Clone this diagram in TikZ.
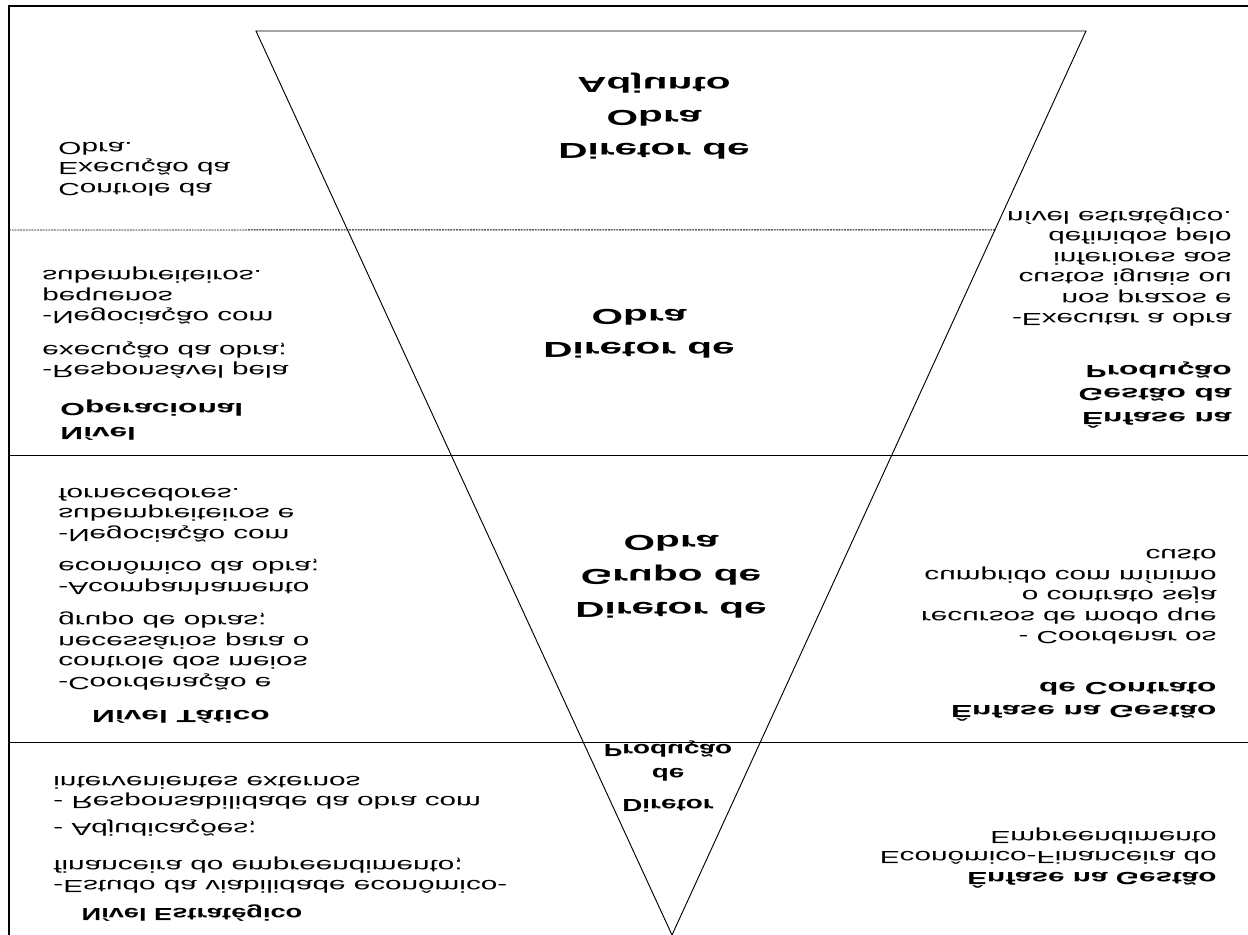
\documentclass[tikz,border=0pt]{standalone}
\usepackage{fontspec}
\setmainfont{Liberation Sans}
\usetikzlibrary{calc}

\begin{document}
\begin{tikzpicture}[x=0.03cm,y=-0.03cm,
    flip/.style={yscale=-1,inner sep=0pt},
    txt/.style={flip,xscale=1.69,font=\fontsize{15}{17.5}\selectfont},
    hdr/.style={flip,xscale=1.8,font=\fontsize{15}{20}\selectfont\bfseries},
    chief/.style={flip,xscale=1.87,align=center,font=\fontsize{18.5}{28.5}\selectfont\bfseries},
    rule/.style={line width=0.8pt},
    sep/.style={line width=0.8pt,dash pattern=on 1.6pt off 0.8pt}]
    \useasboundingbox (0,0) rectangle (1248,935);
    \coordinate (tl) at (256,31);
    \coordinate (tr) at (1086,31);
    \coordinate (ap) at (672,935);
    \draw[line width=1.3pt] (9,935) -- (9,6) -- (1248,6);
    \draw[rule] (tl) -- (tr) -- (ap) -- cycle;
    \draw[sep] (9,230) -- ($(tr)!0.22!(ap)$);
    \draw[rule] (9,455) -- (1248,455);
    \draw[rule] (9,742) -- (1248,742);

    \node[chief] (adj) at (654,116) {Diretor de\\Obra\\Adjunto};
    \node[chief] (obra) at (639,334) {Diretor de\\Obra};
    \node[chief] (grupo) at (671,577) {Diretor de\\Grupo de\\Obra};
    \node[hdr,xscale=0.88,align=center] (prod) at (668,777) {Diretor\\[7pt]de\\Produção};

    \node[txt,anchor=west,align=left] (ctrl) at (58,169) {Controle da\\Execução da\\Obra.};
    \node[txt,anchor=west,align=left] (negp) at (42,296) {-Negociação com\\pequenos\\subempreiteiros.};
    \node[txt,anchor=west,align=left] (resp) at (42,360) {-Responsável pela\\execução da obra;};
    \node[hdr,anchor=west,align=left] (oper) at (60,420) {Nível\\Operacional};
    \node[txt,anchor=west,align=left] (negs) at (58,515) {-Negociação com\\subempreiteiros e\\fornecedores.};
    \node[txt,anchor=west,align=left] (acomp) at (58,577) {-Acompanhamento\\econômico da obra;};
    \node[txt,anchor=west,align=left] (coord) at (58,651) {-Coordenação e\\controle dos meios\\necessários para o\\grupo de obras;};
    \node[hdr] (tat) at (181,717) {Nível Tático};
    \node[txt,anchor=west,align=left] (resx) at (53,793) {- Responsabilidade da obra com\\intervenientes externos};
    \node[txt,anchor=west,align=left] (adjud) at (53,828) {- Adjudicações;};
    \node[txt,anchor=west,align=left] (estudo) at (53,875) {-Estudo da viabilidade econômico-\\financeira do empreendimento;};
    \node[hdr,xscale=0.86] (estr) at (192,913) {Nível Estratégico};

    \node[txt,anchor=east,align=right] (exec) at (1232,267) {-Executar a obra\\nos prazos e\\custos iguais ou\\inferiores aos\\definidos pelo\\nível estratégico.};
    \node[hdr,anchor=east,align=right] (gprod) at (1232,395) {Ênfase na\\Gestão da\\Produção};
    \node[txt,anchor=east,align=right] (recur) at (1217,597) {- Coordenar os\\recursos de modo que\\o contrato seja\\cumprido com mínimo\\custo};
    \node[hdr,anchor=east,align=right] (gcont) at (1217,702) {Ênfase na Gestão\\de Contrato};
    \node[txt,anchor=east,align=right] (gecon) at (1217,858) {{\bfseries\fontsize{15}{17.5}\selectfont Ênfase na Gestão}\\Econômico-Financeira do\\Empreendimento};
\end{tikzpicture}
\end{document}
